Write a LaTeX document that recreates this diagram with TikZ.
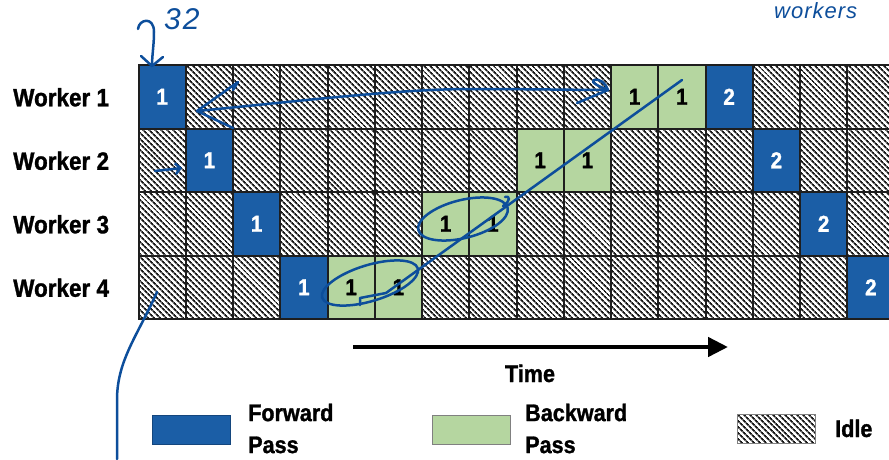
\documentclass[tikz,border=0pt]{standalone}
\usepackage{fontspec}
\usetikzlibrary{patterns.meta,arrows.meta}
\newfontfamily\lblfont{Liberation Sans}[FakeStretch=0.9,BoldFeatures={FakeBold=1.2}]
\newfontfamily\handfont{Liberation Sans}
\definecolor{fwdblue}{HTML}{1B5EA6}
\definecolor{bwdgreen}{HTML}{B5D6A0}
\definecolor{inkblue}{HTML}{0D4E9B}
\definecolor{gridline}{HTML}{1E1E1E}

\tikzset{
  cell/.style={draw=gridline, line width=2pt, minimum width=47.25pt,
    minimum height=63.5pt, inner sep=0pt,
    font=\lblfont\bfseries\fontsize{23}{23}\selectfont},
  fwdcell/.style={fill=fwdblue, text=white},
  bwdcell/.style={fill=bwdgreen, text=black},
  idlecell/.style={pattern={Lines[angle=-45,distance=4pt,line width=1.9pt]},
    pattern color=black!90},
  worker/.style={anchor=base west, inner sep=0pt,
    font=\lblfont\bfseries\fontsize{25}{25}\selectfont},
  legbox/.style={minimum width=78pt, minimum height=29pt, inner sep=0pt, line width=1pt},
  legtext/.style={anchor=north west, align=left, inner sep=0pt,
    font=\lblfont\bfseries\fontsize{24}{32}\selectfont},
  pen/.style={draw=inkblue, line width=2.5pt, line cap=round, line join=round},
  handtext/.style={inner sep=0pt, anchor=base west, text=inkblue}
}

% one worker row: #1 = row number, #2 = list of style/label pairs
\newcommand\pipelinerow[2]{%
  \foreach \t/\n [count=\c from 0] in {#2} {
    \node[cell,\t] (w#1-\c) at ({162.125+47.25*\c},{33.25+63.5*#1}) {\n};
  }%
}

\begin{document}
\begin{tikzpicture}[x=1pt,y=-1pt]
\useasboundingbox (0,0) rectangle (889,459);
\clip (0,0) rectangle (889,459);

% schedule grid
\pipelinerow{1}{fwdcell/1,idlecell/,idlecell/,idlecell/,idlecell/,idlecell/,idlecell/,idlecell/,idlecell/,idlecell/,bwdcell/1,bwdcell/1,fwdcell/2,idlecell/,idlecell/,idlecell/}
\pipelinerow{2}{idlecell/,fwdcell/1,idlecell/,idlecell/,idlecell/,idlecell/,idlecell/,idlecell/,bwdcell/1,bwdcell/1,idlecell/,idlecell/,idlecell/,fwdcell/2,idlecell/,idlecell/}
\pipelinerow{3}{idlecell/,idlecell/,fwdcell/1,idlecell/,idlecell/,idlecell/,bwdcell/1,bwdcell/1,idlecell/,idlecell/,idlecell/,idlecell/,idlecell/,idlecell/,fwdcell/2,idlecell/}
\pipelinerow{4}{idlecell/,idlecell/,idlecell/,fwdcell/1,bwdcell/1,bwdcell/1,idlecell/,idlecell/,idlecell/,idlecell/,idlecell/,idlecell/,idlecell/,idlecell/,idlecell/,fwdcell/2}

% row labels
\node[worker] (lab1) at (13,106.25) {Worker 1};
\node[worker] (lab2) at (13,169.75) {Worker 2};
\node[worker] (lab3) at (13,233.25) {Worker 3};
\node[worker] (lab4) at (13,296.75) {Worker 4};

% time axis
\coordinate (tstart) at (353,347);
\coordinate (tend) at (728,347);
\draw[line width=4.5pt, -{Triangle[length=20pt,width=19pt]}] (tstart) -- (tend);
\node[anchor=base, inner sep=0pt, font=\lblfont\bfseries\fontsize{24}{24}\selectfont] (time) at (530,382) {Time};

% legend
\node[legbox, fill=fwdblue, draw=fwdblue!75!black] (keyf) at (191,429.5) {};
\node[legtext] (keyft) at (248,403.5) {Forward\\Pass};
\node[legbox, fill=bwdgreen, draw=gray] (keyb) at (471,429.5) {};
\node[legtext] (keybt) at (525,403.5) {Backward\\Pass};
\node[legbox, idlecell, draw=gray] (keyi) at (776.5,429) {};
\node[anchor=base west, inner sep=0pt, font=\lblfont\bfseries\fontsize{24}{24}\selectfont] (keyit) at (835,437) {Idle};

% handwritten notes in ink
\node[handtext, font=\handfont\itshape\fontsize{30}{30}\selectfont] (note32) at (164,29) {3\kern2pt2};
\node[handtext, font=\handfont\itshape\fontsize{22}{22}\selectfont] (notew) at (774,18) {w\kern1pt o\kern1pt r\kern1pt k\kern1pt e\kern1pt r\kern1pt s};

\coordinate (q0) at (138,29);
\coordinate (qtip) at (152,66);
\draw[pen] (q0) .. controls (139,19) and (154,16) .. (154,32) .. controls (154,45) and (152,55) .. (qtip);
\draw[pen] (141,56) -- (qtip) -- (163,57);

\coordinate (dl) at (197,111);
\coordinate (dr) at (608,90);
\draw[pen] (dl) .. controls (300,101) and (400,89) .. (470,89) .. controls (530,89) and (580,90) .. (dr);
\draw[pen] (233,90) -- (238,82) -- (dl) -- (233,128);
\draw[pen] (577,103) -- (dr) .. controls (598,86) and (590,82) .. (594,80) .. controls (599,78) and (606,83) .. (dr);

\coordinate (sa) at (155,171);
\coordinate (sb) at (182,168);
\draw[pen, -{Straight Barb[length=5pt,width=11pt]}] (sa) -- (sb);

\draw[pen, rotate around={14:(463,219)}] (463,219) ellipse [x radius=46, y radius=19];
\draw[pen] (503,206) .. controls (511,201) and (510,195) .. (505,197);
\draw[pen, rotate around={17:(370,283)}] (370,283) ellipse [x radius=50, y radius=18];

\coordinate (d0) at (360,305);
\coordinate (d1) at (682,80);
\draw[pen] (d0) -- (360,298) -- (386,293) -- (d1);

\coordinate (c0) at (157,292);
\coordinate (c1) at (117,459);
\draw[pen] (c0) .. controls (138,335) and (117,360) .. (117,400) -- (c1);
\end{tikzpicture}
\end{document}
